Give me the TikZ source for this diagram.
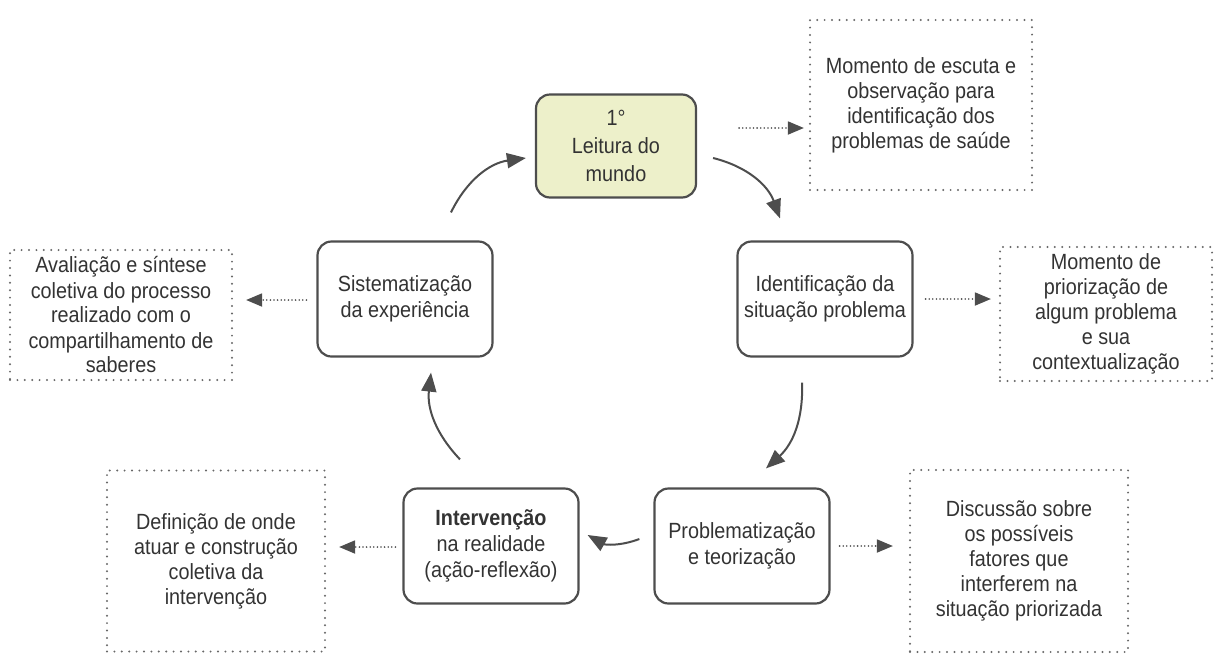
\documentclass[tikz,border=0pt]{standalone}
\usepackage{fontspec}
\setmainfont{Liberation Sans}[FakeStretch=0.9]
\usetikzlibrary{arrows.meta}
\definecolor{linha}{HTML}{4D4D4D}
\definecolor{texto}{HTML}{333333}
\definecolor{verdeclaro}{HTML}{EDF0CA}
\begin{document}
\begin{tikzpicture}[x=1pt,y=-1pt,
    font=\fontsize{22}{26}\selectfont, text=texto,
    etapa/.style={draw=linha, line width=2.2pt, rounded corners=14pt, minimum width=175pt, minimum height=115pt, align=center, inner sep=0pt},
    nota/.style={draw=linha!85, line width=2.2pt, dash pattern=on 0pt off 7.4pt, line cap=round, align=center, inner sep=0pt, font=\fontsize{22}{25}\selectfont},
    ciclo/.style={draw=linha, line width=2pt, -{Triangle[length=19pt,width=15pt]}},
    aviso/.style={draw=linha, line width=1.8pt, dash pattern=on 0pt off 3.6pt, line cap=round, -{Triangle[length=16pt,width=13pt]}}]
		\useasboundingbox (0,0) rectangle (1218,654);

		%etapas do ciclo%
		\node[etapa, fill=verdeclaro, minimum width=160pt, minimum height=103pt, font=\fontsize{22}{28}\selectfont] (leitura) at (616,146) {1°\\Leitura do\\mundo};
		\node[etapa] (identif) at (825,299) {Identificação da\\situação problema};
		\node[etapa] (problem) at (742,546) {Problematização\\e teorização};
		\node[etapa] (interv) at (491,546) {\textbf{Intervenção}\\na realidade\\(ação-reflexão)};
		\node[etapa] (sistem) at (405,299) {Sistematização\\da experiência};

		%notas%
		\node[nota, minimum width=222pt, minimum height=170pt] (nleitura) at (921,105) {Momento de escuta e\\observação para\\identificação dos\\problemas de saúde};
		\node[nota, minimum width=212pt, minimum height=134pt] (nidentif) at (1106,314) {Momento de\\priorização de\\algum problema\\e sua\\contextualização};
		\node[nota, minimum width=218pt, minimum height=182pt] (nproblem) at (1019,561) {Discussão sobre\\os possíveis\\fatores que\\interferem na\\situação priorizada};
		\node[nota, minimum width=218pt, minimum height=181pt] (ninterv) at (216,561) {Definição de onde\\atuar e construção\\coletiva da\\intervenção};
		\node[nota, minimum width=222pt, minimum height=130pt] (nsistem) at (121,315) {Avaliação e síntese\\coletiva do processo\\realizado com o\\compartilhamento de\\saberes};

		%setas do ciclo%
		\draw[ciclo] ([shift={(46,-28)}]sistem.north) to[bend left=28] ([shift={(-9,12)}]leitura.west);
		\draw[ciclo] ([shift={(16,12)}]leitura.east) to[bend left=28] ([shift={(-45,-22)}]identif.north);
		\draw[ciclo] ([shift={(-23,25)}]identif.south) to[bend left=25] ([shift={(24,-19)}]problem.north);
		\draw[ciclo] ([shift={(-14,-7)}]problem.west) to[bend left=25] ([shift={(8,-11)}]interv.east);
		\draw[ciclo] ([shift={(-31,-28)}]interv.north) to[bend left=25] ([shift={(26,15)}]sistem.south);

		%setas pontilhadas%
		\draw[aviso] ([shift={(42,-18)}]leitura.east) -- ([shift={(-5,23)}]nleitura.west);
		\draw[aviso] ([shift={(12,0)}]identif.east) -- ([shift={(-8,-15)}]nidentif.west);
		\draw[aviso] ([shift={(9,0)}]problem.east) -- ([shift={(-16,-15)}]nproblem.west);
		\draw[aviso] ([shift={(-7,1)}]interv.west) -- ([shift={(13,-14)}]ninterv.east);
		\draw[aviso] ([shift={(-10,1)}]sistem.west) -- ([shift={(13,-15)}]nsistem.east);
\end{tikzpicture}
\end{document}
